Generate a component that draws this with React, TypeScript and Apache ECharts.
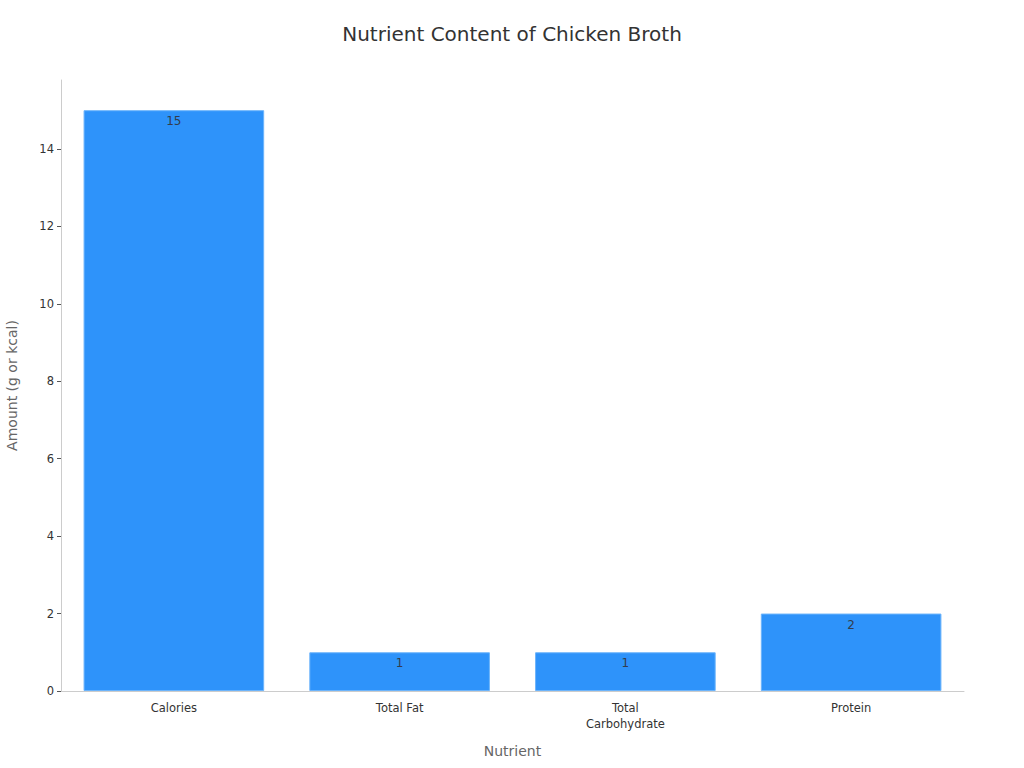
import { useEffect, useRef } from "react";
import * as echarts from "echarts";

const nutrients = ["Calories", "Total Fat", "Total Carbohydrate", "Protein"];
const amounts = [15, 1, 1, 2];
const yTicks = [0, 2, 4, 6, 8, 10, 12, 14];

const FONT = "'DejaVu Sans', sans-serif";

export default function App() {
  const containerRef = useRef<HTMLDivElement | null>(null);

  useEffect(() => {
    if (!containerRef.current) {
      return;
    }

    const chart = echarts.init(containerRef.current, undefined, { renderer: "svg" });

    const option: echarts.EChartsOption = {
      animation: false,
      backgroundColor: "#ffffff",
      textStyle: { fontFamily: FONT },
      title: {
        text: "Nutrient Content of Chicken Broth",
        left: "center",
        top: 19,
        textStyle: {
          fontFamily: FONT,
          fontSize: 20,
          fontWeight: "normal",
          color: "#333333",
        },
      },
      grid: {
        left: 61,
        right: 60,
        top: 80,
        bottom: 77,
        outerBoundsMode: "none",
      } as any,
      xAxis: {
        type: "category",
        data: nutrients,
        name: "Nutrient",
        nameLocation: "middle",
        nameGap: 53,
        nameTextStyle: { fontFamily: FONT, fontSize: 14, color: "#666666" },
        axisLine: { lineStyle: { color: "#cccccc", width: 1 } },
        axisTick: { alignWithLabel: true, length: 4, lineStyle: { color: "#555555" } },
        axisLabel: {
          fontFamily: FONT,
          fontSize: 11.5,
          color: "#333333",
          margin: 9,
          lineHeight: 16,
          formatter: (value: string) => (value === "Total Carbohydrate" ? "Total\nCarbohydrate" : value),
        },
        splitLine: { show: false },
      },
      yAxis: {
        type: "value",
        min: 0,
        max: 15.78,
        interval: 2,
        name: "Amount (g or kcal)",
        nameLocation: "middle",
        nameGap: 42,
        nameTextStyle: { fontFamily: FONT, fontSize: 14, color: "#666666" },
        axisLine: { show: true, lineStyle: { color: "#cccccc", width: 1 } },
        axisTick: { show: true, length: 4, customValues: yTicks, lineStyle: { color: "#555555" } },
        axisLabel: {
          fontFamily: FONT,
          fontSize: 11.5,
          color: "#333333",
          margin: 7,
          customValues: yTicks,
        },
        splitLine: { show: false },
      } as any,
      series: [
        {
          type: "bar",
          data: amounts,
          barCategoryGap: "20%",
          itemStyle: {
            color: "#2e93fa",
            borderColor: "#6cb4fb",
            borderWidth: 1,
          },
          label: {
            show: true,
            position: "insideTop",
            distance: 5,
            fontFamily: FONT,
            fontSize: 12,
            color: "#333d4d",
          },
        },
      ],
    };

    chart.setOption(option);

    return () => {
      chart.dispose();
    };
  }, []);

  return (
    <div
      ref={containerRef}
      style={{ position: "fixed", left: 0, top: 0, width: 1024, height: 768 }}
    />
  );
}
